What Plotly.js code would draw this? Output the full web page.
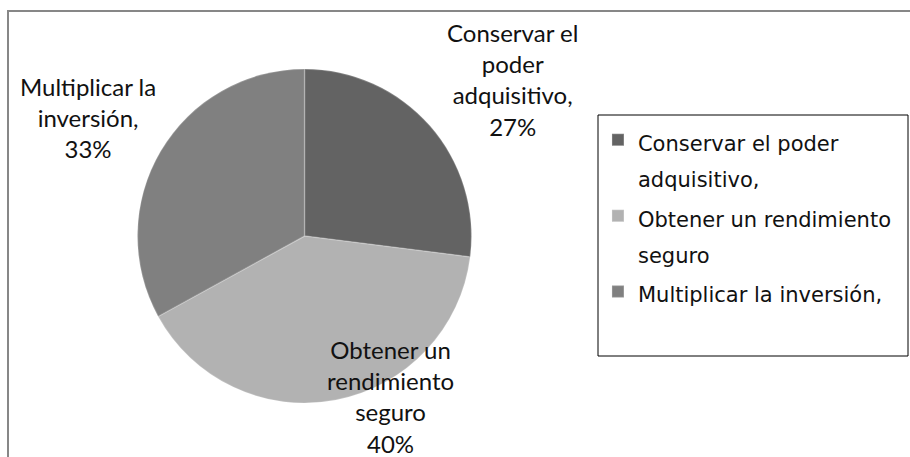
<!DOCTYPE html>
<html>
<head>
<meta charset="utf-8">
<script src="https://cdn.plot.ly/plotly-3.0.1.min.js"></script>
<style>
  html, body { margin: 0; padding: 0; background: #ffffff; }
  #chart { width: 910px; height: 457px; }
</style>
</head>
<body>
<div id="chart"></div>
<script>
// Categories (as in the legend)
const categories = [
  "Conservar el poder adquisitivo,",
  "Obtener un rendimiento seguro",
  "Multiplicar la inversión,"
];
// Legend wording with the line wraps of the reference
const legendLines = [
  ["Conservar el poder", "adquisitivo,"],
  ["Obtener un rendimiento", "seguro"],
  ["Multiplicar la inversión,"]
];
// Data-label wording (line wraps as drawn next to the pie)
const dataLabelLines = [
  ["Conservar el", "poder", "adquisitivo,"],
  ["Obtener un", "rendimiento", "seguro"],
  ["Multiplicar la", "inversión,"]
];
// Shares in percent
const values = [27, 40, 33];
const colors = ["#636363", "#b2b2b2", "#808080"];

const total = values.reduce((a, b) => a + b, 0);
const pctText = values.map(v => Math.round(v / total * 100) + "%");

// legend text drawn at 21px inside a 28px line box (wider line spacing)
const legendLabels = legendLines.map(l =>
  '<span style="font-size:21px">' + l.join("<br>") + "</span>");

// Data label placement (paper coords) – layout only
const labelPos = [
  { x: 0.563, y: 0.826 },
  { x: 0.429, y: 0.132 },
  { x: 0.097, y: 0.742 }
];

const trace = {
  type: "pie",
  labels: legendLabels,
  values: values,
  sort: false,
  direction: "clockwise",
  rotation: 0,
  textinfo: "none",
  hoverinfo: "label+percent",
  marker: {
    colors: colors,
    line: { color: "rgba(255,255,255,0.2)", width: 1.5 }
  },
  domain: { x: [0.1511, 0.5181], y: [0.1182, 0.8490] }
};

const annotations = dataLabelLines.map((lines, i) => ({
  xref: "paper", yref: "paper",
  x: labelPos[i].x, y: labelPos[i].y,
  xanchor: "center", yanchor: "middle",
  text: lines.concat([pctText[i]]).join("<br>"),
  showarrow: false,
  align: "center",
  font: { family: "Lato, 'Liberation Sans', sans-serif", size: 24, color: "#111111" }
}));

const layout = {
  width: 910, height: 457,
  margin: { l: 0, r: 0, t: 0, b: 0 },
  paper_bgcolor: "#ffffff",
  showlegend: true,
  legend: {
    x: 0.6571, y: 0.748, xanchor: "left", yanchor: "top",
    bgcolor: "rgba(0,0,0,0)", borderwidth: 0,
    valign: "top",
    font: { family: "'DejaVu Sans', sans-serif", size: 28, color: "#111111" },
    traceorder: "normal"
  },
  annotations: annotations,
  shapes: [
    // outer chart-area frame
    { type: "rect", xref: "paper", yref: "paper",
      x0: 8 / 910, x1: 1.02, y0: -0.02, y1: 1 - 11 / 457,
      line: { color: "#878787", width: 2 }, fillcolor: "rgba(0,0,0,0)" },
    // legend frame
    { type: "rect", xref: "paper", yref: "paper",
      x0: 598 / 910, x1: 908 / 910, y0: 1 - 356 / 457, y1: 1 - 115 / 457,
      line: { color: "#000000", width: 1 }, fillcolor: "rgba(0,0,0,0)" }
  ]
};

Plotly.newPlot("chart", [trace], layout, { displayModeBar: false, staticPlot: true });
</script>
</body>
</html>
